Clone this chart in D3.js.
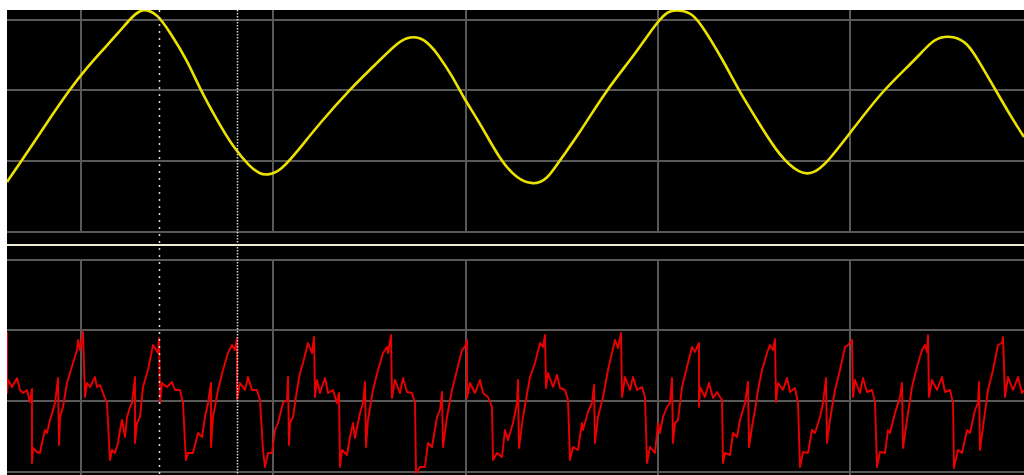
<!DOCTYPE html>
<html>
<head>
<meta charset="utf-8">
<script src="https://cdn.jsdelivr.net/npm/d3@7"></script>
<style>
  html, body { margin: 0; padding: 0; background: #fff; }
  svg { display: block; }
</style>
</head>
<body>
<script>
// Time is in samples across the visible record (0..1017); levels are in
// screen units above the lowest graticule line of each channel (70.7 per division).

// Graticule positions
const timeGrid = [73.3, 265.7, 458.3, 650.7, 842.7];
const levelGrid = [0, 70.7, 141.3, 212];

// Cursor positions (samples)
const cursorTimes = [152, 229.5];

// Channel 1 (yellow): [time, level]
const ch1Trace = [
  [0,49],[13,68],[28,90],[43,113],[63,142],[78,161],[93,178],[113,200],[123,212],
  [133,221],[141,221],[150,217],[163,199],[180,171],[193,142],[210,111],[226,84],
  [243,64],[253,57],[260,56],[273,59],[293,83],[313,108],[343,142],[373,171],
  [388,186],[400,194],[413,194],[423,186],[430,178],[446,154],[456,134],[473,108],
  [493,71],[510,52],[526,46],[540,51],[553,71],[570,94],[600,142],[626,174],
  [650,209],[661,220],[670,221],[683,219],[693,209],[716,171],[731,142],[750,111],
  [773,74],[793,57],[806,57],[820,68],[843,98],[876,141],[906,169],[923,188],
  [933,194],[946,195],[960,189],[973,168],[988,142],[1003,116],[1017,94]
];

// Channel 2 (red): [time, level]
const ch2Trace = [
  [0,139],[0,78],[1,91],[5,84],[10,93],[13,81],[16,78],[20,81],[23,69],[25,82],[25,8],
  [26,23],[30,19],[33,18],[35,28],[38,41],[40,38],[43,51],[46,61],[48,68],[51,93],[52,26],
  [53,54],[56,64],[60,88],[63,98],[66,108],[70,121],[71,131],[73,121],[76,139],
  [78,74],[80,88],[83,84],[88,94],[90,84],[93,86],[96,78],[100,68],[103,11],[105,21],
  [108,18],[111,28],[113,41],[115,51],[118,34],[120,54],[123,64],[125,68],[128,94],[128,28],
  [130,48],[133,54],[136,84],[141,101],[146,126],[148,123],[151,118],[152,133],
  [153,68],[155,88],[160,84],[165,89],[168,81],[173,81],[176,68],[178,28],[179,11],[181,18],
  [186,18],[191,38],[195,34],[198,54],[201,68],[204,88],[204,24],[206,54],[211,81],[216,101],
  [221,118],[225,126],[228,121],[230,133],
  [230,71],[233,88],[238,81],[241,94],[245,81],[250,81],[253,71],[256,21],[258,4],[261,18],
  [265,18],[268,41],[271,48],[276,68],[280,71],[281,94],[282,26],[283,48],[286,54],[290,81],
  [293,98],[296,108],[301,128],[305,118],[307,134],
  [308,74],[310,91],[313,78],[318,93],[321,78],[326,81],[330,68],[332,78],[333,4],[335,21],
  [340,16],[343,34],[346,48],[348,33],[353,58],[356,68],[358,89],[359,24],[361,51],[366,81],
  [371,101],[376,118],[380,124],[381,118],[384,136],
  [385,73],[388,91],[393,78],[396,93],[400,79],[405,78],[408,68],[409,-2],[413,4],[418,4],
  [421,28],[425,24],[430,54],[433,61],[435,79],[436,24],[440,54],[445,81],[450,101],[455,121],
  [458,124],[460,131],
  [460,73],[463,88],[468,78],[473,91],[476,78],[481,74],[485,64],[486,11],[490,18],[495,14],
  [498,41],[501,31],[506,48],[510,68],[511,91],[512,23],[516,54],[523,94],[528,108],[533,128],
  [536,124],[538,136],
  [539,83],[541,98],[546,84],[550,96],[553,83],[558,81],[561,71],[563,11],[566,24],[571,21],
  [575,48],[576,41],[581,59],[585,68],[587,86],[588,28],[591,54],[596,74],[601,101],[608,131],
  [611,123],[614,138],
  [615,74],[618,94],[623,81],[626,94],[630,81],[635,84],[638,74],[640,8],[643,24],[648,18],
  [651,48],[653,38],[656,54],[660,64],[663,68],[665,93],[666,28],[668,48],[671,51],[675,84],
  [680,104],[685,124],[688,119],[690,124],[692,128],
  [692,64],[693,84],[698,74],[702,88],[706,73],[710,79],[713,74],[715,71],[716,8],[718,18],
  [723,16],[726,38],[730,34],[733,51],[738,68],[741,89],[742,24],[745,44],[748,61],[751,81],
  [755,101],[760,118],[763,126],[766,121],[768,132],
  [769,69],[771,88],[776,81],[780,93],[783,79],[788,83],[791,68],[793,4],[796,19],[801,18],
  [805,41],[808,38],[813,54],[816,68],[819,93],[820,28],[823,51],[828,81],[833,101],[838,124],
  [841,126],[845,131],
  [846,74],[848,91],[853,78],[856,93],[860,79],[865,81],[868,69],[870,4],[873,19],[878,18],
  [881,41],[883,38],[888,58],[893,74],[895,88],[896,23],[900,51],[905,84],[910,104],[915,121],
  [918,126],[920,119],[921,136],
  [922,74],[925,91],[930,81],[935,94],[938,79],[943,81],[946,68],[947,3],[951,21],[955,18],
  [960,41],[963,38],[968,61],[971,68],[972,89],[973,21],[976,44],[981,81],[986,101],[991,126],
  [995,128],[996,134],
  [998,74],[1001,94],[1006,81],[1011,94],[1015,78],[1017,81]
];

const W = 1024, H = 475;
const plotLeft = 7, plotTop = 10;
const ch1Base = 231;       // lowest graticule line of channel 1
const sepY = 245;          // divider between the two channels
const ch2Top = 259;        // highest graticule line of channel 2
const ch2Base = 471;       // lowest graticule line of channel 2

const gridColor = '#595959';

const svg = d3.select('body').append('svg')
  .attr('width', W).attr('height', H);

svg.append('rect')
  .attr('x', plotLeft).attr('y', plotTop)
  .attr('width', W - plotLeft).attr('height', H - plotTop)
  .attr('fill', '#000');

const x = d3.scaleLinear().domain([0, 1017]).range([plotLeft, W]);
const y1 = d3.scaleLinear().domain([0, 212]).range([ch1Base, 19]);
const y2 = d3.scaleLinear().domain([0, 212]).range([ch2Base, ch2Top]);

const defs = svg.append('defs');
defs.append('clipPath').attr('id', 'clip1').append('rect')
  .attr('x', plotLeft).attr('y', plotTop).attr('width', W - plotLeft).attr('height', sepY - 4 - plotTop);
defs.append('clipPath').attr('id', 'clip2').append('rect')
  .attr('x', plotLeft).attr('y', sepY + 3).attr('width', W - plotLeft).attr('height', H - sepY - 3);

function styleGrid(g) {
  g.select('.domain').remove();
  g.selectAll('.tick line')
    .attr('stroke', gridColor)
    .attr('stroke-width', 2)
    .attr('shape-rendering', 'crispEdges');
  g.selectAll('text').remove();
}

// Channel 1 graticule
svg.append('g')
  .attr('transform', `translate(0,${ch1Base})`)
  .call(d3.axisBottom(x).tickValues(timeGrid).tickSize(-(ch1Base - plotTop)).tickFormat(''))
  .call(styleGrid);
svg.append('g')
  .attr('transform', `translate(${plotLeft},0)`)
  .call(d3.axisLeft(y1).tickValues(levelGrid).tickSize(-(W - plotLeft)).tickFormat(''))
  .call(styleGrid);

// Channel 2 graticule
svg.append('g')
  .attr('transform', `translate(0,${ch2Top})`)
  .call(d3.axisTop(x).tickValues(timeGrid).tickSize(-(H - ch2Top)).tickFormat(''))
  .call(styleGrid);
svg.append('g')
  .attr('transform', `translate(${plotLeft},0)`)
  .call(d3.axisLeft(y2).tickValues(levelGrid).tickSize(-(W - plotLeft)).tickFormat(''))
  .call(styleGrid);

// Divider
svg.append('line')
  .attr('x1', plotLeft).attr('x2', W)
  .attr('y1', sepY).attr('y2', sepY)
  .attr('stroke', '#f2ecd6')
  .attr('stroke-width', 2)
  .attr('shape-rendering', 'crispEdges');

// Traces
const line1 = d3.line()
  .x(d => x(d[0])).y(d => y1(d[1]))
  .curve(d3.curveBasis);
svg.append('path')
  .datum(ch1Trace)
  .attr('clip-path', 'url(#clip1)')
  .attr('d', line1)
  .attr('fill', 'none')
  .attr('stroke', '#ece200')
  .attr('stroke-width', 2.6)
  .attr('stroke-linejoin', 'round');

const line2 = d3.line()
  .x(d => x(d[0])).y(d => y2(d[1]));
svg.append('path')
  .datum(ch2Trace)
  .attr('clip-path', 'url(#clip2)')
  .attr('d', line2)
  .attr('fill', 'none')
  .attr('stroke', '#ea0000')
  .attr('stroke-width', 1.9)
  .attr('stroke-linejoin', 'round');

// Cursors
const cursorDash = ['2,5', '1.5,1.5'];
svg.selectAll('line.cursor')
  .data(cursorTimes)
  .join('line')
  .attr('class', 'cursor')
  .attr('x1', d => Math.round(x(d)) + 0.5)
  .attr('x2', d => Math.round(x(d)) + 0.5)
  .attr('y1', plotTop).attr('y2', H)
  .attr('stroke', '#d8d8d8')
  .attr('stroke-width', 1.5)
  .attr('stroke-dasharray', (d, i) => cursorDash[i]);
</script>
</body>
</html>
